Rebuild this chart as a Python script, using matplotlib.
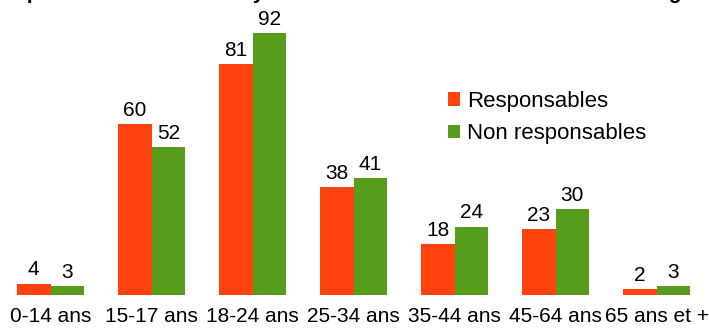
import matplotlib.pyplot as plt
import numpy as np

plt.rcParams['font.family'] = ['Liberation Sans', 'DejaVu Sans']

categories = ['0-14 ans', '15-17 ans', '18-24 ans', '25-34 ans', '35-44 ans', '45-64 ans', '65 ans et +']
responsables = [4, 60, 81, 38, 18, 23, 2]
non_responsables = [3, 52, 92, 41, 24, 30, 3]

fig = plt.figure(figsize=(7.09, 3.29), dpi=100)
ax = fig.add_axes([0, 34 / 329, 707 / 709, 1 - 34 / 329])

x = np.arange(len(categories))
w = 0.335
b1 = ax.bar(x - w / 2, responsables, w, color='#ff420e', label='Responsables')
b2 = ax.bar(x + w / 2, non_responsables, w, color='#579d1c', label='Non responsables')

for bars in (b1, b2):
    for bar in bars:
        ax.annotate(f'{int(bar.get_height())}', (bar.get_x() + bar.get_width() / 2, bar.get_height()),
                    xytext=(0, 3), textcoords='offset points', ha='center', va='bottom', fontsize=15)

ax.set_xlim(-0.5, 6.5)
ax.set_ylim(0, 103.5)
ax.set_xticks(x)
ax.set_xticklabels(categories, fontsize=15)
ax.tick_params(axis='x', length=0, pad=9)
ax.set_yticks([])
for s in ax.spines.values():
    s.set_visible(False)

ax.legend(loc='upper left', bbox_to_anchor=(448 / 709, 1 - 91 / 329), bbox_transform=fig.transFigure,
          frameon=False, fontsize=16, borderpad=0, borderaxespad=0,
          handlelength=0.55, handleheight=0.55, handletextpad=0.32, labelspacing=0.5)

# titre coupé en haut de l'image
fig.text(0.0, 1.003, "Répartition des blessés ayant eu un accident selon leur tranche d'âge", fontsize=15,
         fontweight='bold', ha='left', va='baseline')

fig.savefig('out.png', dpi=100)
